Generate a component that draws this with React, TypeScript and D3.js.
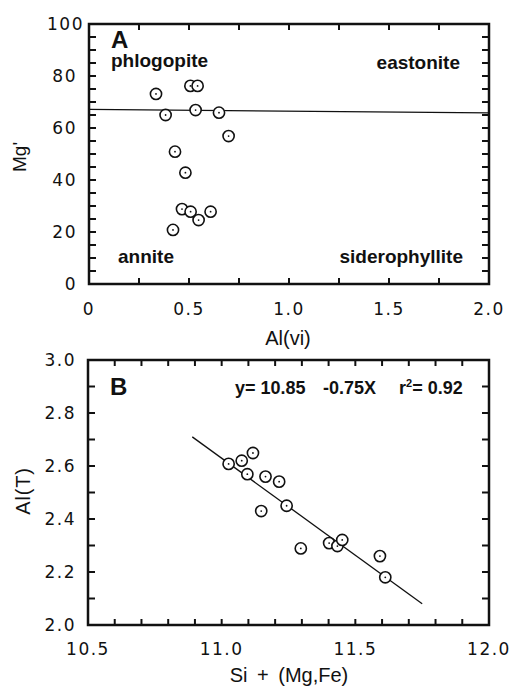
import React from "react";
import * as d3 from "d3";

// Panel A data: Al(vi) vs Mg'
const alVi = [0.335, 0.383, 0.507, 0.543, 0.533, 0.65, 0.698, 0.43, 0.482, 0.465, 0.508, 0.548, 0.608, 0.42];
const mgPrime = [73.1, 65.0, 76.2, 76.2, 66.9, 65.9, 56.9, 50.9, 42.8, 28.8, 27.8, 24.6, 27.8, 20.8];
const lineAx = [0, 2];
const lineAy = [67.2, 65.8];
const xTicksA = [0, 0.5, 1.0, 1.5, 2.0];
const xTickLabelsA = ["0", "0.5", "1.0", "1.5", "2.0"];
const yTicksA = [0, 20, 40, 60, 80, 100];

// Panel B data: Si + (Mg,Fe) vs Al(T)
const siMgFe = [11.026, 11.075, 11.117, 11.096, 11.164, 11.215, 11.148, 11.243, 11.296, 11.402, 11.433, 11.451, 11.592, 11.612];
const alT = [2.608, 2.62, 2.649, 2.569, 2.56, 2.541, 2.43, 2.45, 2.289, 2.309, 2.298, 2.321, 2.26, 2.18];
const lineBx = [10.89, 11.75];
const lineBy = [2.71, 2.08];
const xTicksB = [10.5, 11.0, 11.5, 12.0];
const xTickLabelsB = ["10.5", "11.0", "11.5", "12.0"];
const yTicksB = [2.0, 2.2, 2.4, 2.6, 2.8, 3.0];
const yTickLabelsB = ["2.0", "2.2", "2.4", "2.6", "2.8", "3.0"];

const tickFont = "'DejaVu Sans', sans-serif";
const titleFont = "'Liberation Sans', Arial, sans-serif";
const boldFont = "'Liberation Sans', Arial, sans-serif";

function Marker({ cx, cy }: { cx: number; cy: number }) {
  return (
    <g>
      <circle cx={cx} cy={cy} r={5.6} fill="white" stroke="#111" strokeWidth={1.6} />
      <circle cx={cx} cy={cy} r={0.9} fill="#111" />
    </g>
  );
}

export default function App() {
  // Panel A
  const xA = d3.scaleLinear().domain([0, 2]).range([89, 489]);
  const yA = d3.scaleLinear().domain([0, 100]).range([284, 24]);
  const minorXA = d3.range(0.25, 2, 0.25);
  const minorYA = d3.range(5, 100, 5);
  const lineGen = d3.line<[number, number]>();

  // Panel B
  const xB = d3.scaleLinear().domain([10.5, 12]).range([88, 489]);
  const yB = d3.scaleLinear().domain([2, 3]).range([625, 360]);
  const minorXB = d3.range(10.6, 11.95, 0.1);
  const minorYB = d3.range(2.1, 2.95, 0.1);

  const tickLen = 6;
  const lblStyle: React.CSSProperties = { letterSpacing: "1.5px" };

  return (
    <svg width={511} height={686} style={{ position: "absolute", left: 0, top: 0, background: "white" }}>
      <rect x={0} y={0} width={511} height={686} fill="white" />
      {/* ---------- Panel A ---------- */}
      <g>
        {minorXA.map((v, i) => (
          <g key={"xa" + i} stroke="#111" strokeWidth={2}>
            <line x1={xA(v)} x2={xA(v)} y1={yA(0)} y2={yA(0) - tickLen} />
            <line x1={xA(v)} x2={xA(v)} y1={yA(100)} y2={yA(100) + tickLen} />
          </g>
        ))}
        {minorYA.map((v, i) => (
          <g key={"ya" + i} stroke="#111" strokeWidth={2}>
            <line x1={xA(0)} x2={xA(0) + tickLen + 1} y1={yA(v)} y2={yA(v)} />
            <line x1={xA(2)} x2={xA(2) - tickLen - 1} y1={yA(v)} y2={yA(v)} />
          </g>
        ))}
        <rect x={xA(0)} y={yA(100)} width={xA(2) - xA(0)} height={yA(0) - yA(100)} fill="none" stroke="#111" strokeWidth={2.5} />
        <path
          d={lineGen(lineAx.map((x, i) => [xA(x), yA(lineAy[i])]) as [number, number][]) || ""}
          stroke="#111"
          strokeWidth={1.3}
          fill="none"
        />
        {alVi.map((x, i) => (
          <Marker key={"pa" + i} cx={xA(x)} cy={yA(mgPrime[i])} />
        ))}
        {xTicksA.map((v, i) => (
          <text key={"xla" + i} x={xA(v)} y={315} textAnchor="middle" fontFamily={tickFont} fontSize={17} style={lblStyle} fill="#111">
            {xTickLabelsA[i]}
          </text>
        ))}
        {yTicksA.map((v, i) => (
          <text key={"yla" + i} x={v === 100 ? 84 : 77} y={yA(v) + 6} textAnchor="end" fontFamily={tickFont} fontSize={17} style={lblStyle} fill="#111">
            {String(v)}
          </text>
        ))}
        <text x={288} y={345} textAnchor="middle" fontFamily={titleFont} fontSize={20} fill="#111">Al(vi)</text>
        <text transform="translate(26,157) rotate(-90)" textAnchor="middle" fontFamily={titleFont} fontSize={19} fill="#111">Mg'</text>
        <text x={111} y={48} fontFamily={boldFont} fontWeight="bold" fontSize={24} fill="#111">A</text>
        <text x={111} y={67} fontFamily={boldFont} fontWeight="bold" fontSize={19} fill="#111">phlogopite</text>
        <text x={460} y={69} textAnchor="end" fontFamily={boldFont} fontWeight="bold" fontSize={19} fill="#111">eastonite</text>
        <text x={118} y={263} fontFamily={boldFont} fontWeight="bold" fontSize={19} fill="#111">annite</text>
        <text x={463} y={263} textAnchor="end" fontFamily={boldFont} fontWeight="bold" fontSize={19} fill="#111">siderophyllite</text>
      </g>

      {/* ---------- Panel B ---------- */}
      <g>
        {minorXB.map((v, i) => (
          <g key={"xb" + i} stroke="#111" strokeWidth={2}>
            <line x1={xB(v)} x2={xB(v)} y1={yB(2)} y2={yB(2) - tickLen} />
            <line x1={xB(v)} x2={xB(v)} y1={yB(3)} y2={yB(3) + tickLen} />
          </g>
        ))}
        {minorYB.map((v, i) => (
          <g key={"yb" + i} stroke="#111" strokeWidth={2}>
            <line x1={xB(10.5)} x2={xB(10.5) + tickLen + 1} y1={yB(v)} y2={yB(v)} />
            <line x1={xB(12)} x2={xB(12) - tickLen - 1} y1={yB(v)} y2={yB(v)} />
          </g>
        ))}
        <rect x={xB(10.5)} y={yB(3)} width={xB(12) - xB(10.5)} height={yB(2) - yB(3)} fill="none" stroke="#111" strokeWidth={2.5} />
        <path
          d={lineGen(lineBx.map((x, i) => [xB(x), yB(lineBy[i])]) as [number, number][]) || ""}
          stroke="#111"
          strokeWidth={1.3}
          fill="none"
        />
        {siMgFe.map((x, i) => (
          <Marker key={"pb" + i} cx={xB(x)} cy={yB(alT[i])} />
        ))}
        {xTicksB.map((v, i) => (
          <text key={"xlb" + i} x={xB(v)} y={655} textAnchor="middle" fontFamily={tickFont} fontSize={17} style={lblStyle} fill="#111">
            {xTickLabelsB[i]}
          </text>
        ))}
        {yTicksB.map((v, i) => (
          <text key={"ylb" + i} x={76} y={yB(v) + 6} textAnchor="end" fontFamily={tickFont} fontSize={17} style={lblStyle} fill="#111">
            {yTickLabelsB[i]}
          </text>
        ))}
        <text x={289} y={682} textAnchor="middle" fontFamily={titleFont} fontSize={20} style={{ wordSpacing: "4px" }} fill="#111">Si + (Mg,Fe)</text>
        <text transform="translate(30,491) rotate(-90)" textAnchor="middle" fontFamily={titleFont} fontSize={20} style={{ letterSpacing: "0.8px" }} fill="#111">Al(T)</text>
        <text x={110} y={395} fontFamily={boldFont} fontWeight="bold" fontSize={24} fill="#111">B</text>
        <text x={235} y={394} fontFamily={boldFont} fontWeight="bold" fontSize={18} fill="#111">y= 10.85</text>
        <text x={323} y={394} fontFamily={boldFont} fontWeight="bold" fontSize={18} fill="#111">-0.75X</text>
        <text x={399} y={394} fontFamily={boldFont} fontWeight="bold" fontSize={18} fill="#111">
          r<tspan dy={-7} fontSize={11}>2</tspan><tspan dy={7}>= 0.92</tspan>
        </text>
      </g>
    </svg>
  );
}
